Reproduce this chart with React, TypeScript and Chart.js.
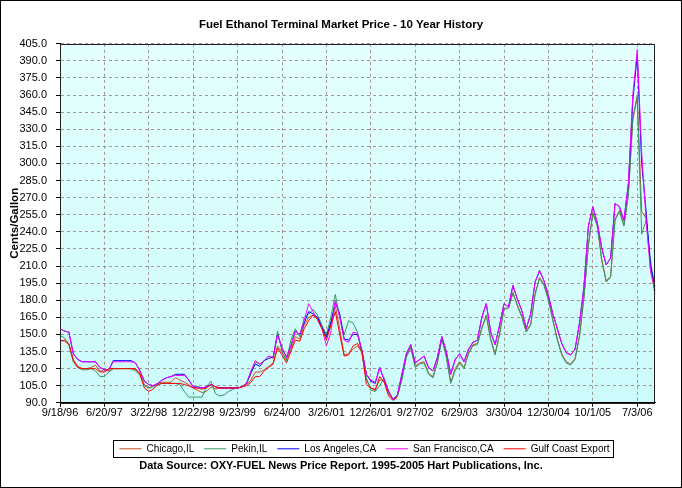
import React, { useEffect, useRef } from 'react';
import { Chart, registerables } from 'chart.js';

Chart.register(...registerables);

// x-axis tick labels (one every 10 data points)
const tickLabels = [
  '9/18/96', '6/20/97', '3/22/98', '12/22/98', '9/23/99', '6/24/00', '3/26/01',
  '12/26/01', '9/27/02', '6/29/03', '3/30/04', '12/30/04', '10/1/05', '7/3/06',
];

const seriesNames = ['Chicago,IL', 'Pekin,IL', 'Los Angeles,CA', 'San Francisco,CA', 'Gulf Coast Export'];

const chicago = [
  145, 144, 141, 128, 122, 120, 120, 121, 123, 118,
  118, 118, 120, 120, 120, 120, 120, 119, 116, 106,
  103, 105, 107, 108, 108, 108, 112, 110, 108, 106,
  103, 101, 99, 100, 104, 102, 103, 103, 103, 103,
  103, 104, 106, 110, 117, 117, 119, 122, 125, 140,
  134, 128, 137, 148, 146, 158, 165, 167, 165, 156,
  147, 160, 175, 155, 132, 133, 137, 140, 134, 110,
  103, 102, 110, 110, 98, 93, 96, 111, 131, 139,
  122, 125, 126, 116, 113, 126, 147, 131, 108, 120,
  126, 121, 134, 141, 142, 156, 167, 146, 133, 151,
  173, 173, 187, 176, 166, 153, 159, 186, 200, 194,
  181, 163, 146, 133, 126, 124, 129, 149, 183, 229,
  257, 246, 216, 197, 201, 251, 259, 246, 273, 338,
  358, 258, 252, 210, 185,
];

const pekin = [
  149, 147, 141, 126, 121, 119, 119, 120, 118, 113,
  113, 117, 120, 120, 120, 120, 120, 118, 114, 105,
  103, 104, 106, 107, 107, 107, 107, 106, 100, 95,
  95, 95, 95, 104, 109, 98, 96, 97, 100, 102,
  103, 104, 107, 115, 126, 124, 127, 131, 129, 153,
  135, 127, 145, 155, 148, 165, 168, 172, 167, 158,
  150, 165, 185, 165, 150, 162, 160, 152, 133, 112,
  101, 100, 105, 112, 100, 93, 96, 110, 130, 138,
  121, 124, 125, 115, 112, 125, 146, 130, 107, 118,
  125, 120, 133, 140, 141, 155, 166, 145, 132, 150,
  172, 173, 186, 175, 165, 152, 158, 185, 199, 193,
  180, 162, 145, 132, 125, 123, 128, 148, 182, 228,
  256, 245, 215, 196, 200, 250, 258, 245, 272, 340,
  360, 238, 250, 215, 188,
];

const losAngeles = [
  155, 153, 152, 133, 128, 126, 126, 126, 126, 121,
  119, 119, 127, 127, 127, 127, 127, 125, 118, 109,
  106, 105, 107, 110, 112, 113, 115, 115, 115, 110,
  104, 104, 103, 104, 106, 104, 103, 103, 103, 103,
  103, 104, 107, 117, 124, 122, 127, 129, 130, 150,
  138, 130, 140, 153, 150, 160, 170, 168, 165, 156,
  148, 160, 178, 168, 146, 145, 150, 150, 136, 115,
  109, 107, 121, 110, 100, 93, 97, 115, 133, 141,
  125, 128, 131, 121, 118, 130, 148, 135, 115, 128,
  133, 126, 137, 143, 145, 165, 177, 152, 141, 158,
  177, 174, 193, 181, 171, 155, 168, 196, 206, 197,
  184, 168, 155, 142, 134, 132, 137, 160, 192, 245,
  262, 248, 226, 211, 217, 265, 262, 250, 282, 355,
  395, 300, 258, 210, 192,
];

const sanFrancisco = [
  155, 153, 152, 133, 128, 126, 126, 126, 126, 121,
  119, 119, 126, 126, 126, 126, 126, 125, 118, 109,
  106, 105, 107, 110, 112, 113, 114, 114, 114, 110,
  104, 103, 103, 104, 106, 104, 103, 103, 103, 103,
  103, 104, 107, 118, 127, 124, 127, 131, 130, 150,
  138, 130, 140, 153, 150, 162, 177, 170, 163, 155,
  140, 152, 180, 165, 145, 143, 152, 151, 136, 115,
  110, 108, 121, 110, 100, 93, 97, 115, 133, 141,
  125, 128, 131, 121, 118, 130, 148, 135, 115, 128,
  133, 126, 137, 143, 145, 165, 177, 152, 141, 158,
  177, 174, 193, 181, 171, 155, 168, 196, 206, 197,
  184, 168, 155, 142, 134, 132, 137, 160, 192, 245,
  262, 248, 226, 211, 217, 265, 262, 250, 282, 360,
  400, 310, 250, 205, 188,
];

const gulfCoast = [
  144, 145, 142, 127, 121, 120, 120, 120, 120, 117,
  117, 120, 120, 120, 120, 120, 120, 120, 115, 103,
  100, 102, 106, 107, 107, 107, 107, 107, 106, 105,
  103, 103, 102, 103, 106, 104, 103, 103, 103, 103,
  103, 104, 105, 108, 113, 113, 118, 121, 124, 138,
  132, 125, 135, 145, 144, 155, 162, 167, 163, 155,
  145, 158, 170, 150, 131, 132, 140, 142, 135, 106,
  103, 101, 113, 108, 96, 92, 95, null, null, null,
  null, null, null, null, null, null, null, null, null, null,
  null, null, null, null, null, null, null, null, null, null,
  null, null, null, null, null, null, null, null, null, null,
  null, null, null, null, null, null, null, null, null, null,
  null, null, null, null, null, null, null, null, null, null,
  null, null, null, null, null,
];

const seriesColors = ['#C8501E', '#339966', '#0000FF', '#FF00FF', '#FF0000'];

const FONT = "'Liberation Sans', Arial, sans-serif";

function buildCategories(n: number): string[] {
  // one point every 27.5 days from 9/18/96
  const start = new Date(1996, 8, 18);
  const out: string[] = [];
  for (let i = 0; i < n; i++) {
    const d = new Date(start.getTime());
    d.setDate(d.getDate() + Math.round(i * 27.5));
    out.push(`${d.getMonth() + 1}/${d.getDate()}/${String(d.getFullYear()).slice(2)}`);
  }
  return out;
}

const framePlugin = {
  id: 'frame',
  afterLayout(chart: any) {
    // the legend sits slightly right of centre in the original
    const lg = chart.legend;
    if (lg) {
      lg.left += 7;
      lg.right += 7;
    }
  },
  beforeDraw(chart: any) {
    const { ctx, chartArea } = chart;
    const { left, top, right, bottom } = chartArea;
    ctx.save();
    ctx.fillStyle = '#ffffff';
    ctx.fillRect(0, 0, chart.width, chart.height);
    const g = ctx.createLinearGradient(0, top, 0, bottom);
    g.addColorStop(0, '#e4ffff');
    g.addColorStop(1, '#ccfbfb');
    ctx.fillStyle = g;
    ctx.fillRect(left, top, right - left, bottom - top);
    ctx.restore();
  },
  afterDraw(chart: any) {
    const { ctx, chartArea } = chart;
    const { left, top, right, bottom } = chartArea;
    ctx.save();
    ctx.strokeStyle = '#222';
    ctx.lineWidth = 1;
    ctx.strokeRect(Math.round(left) + 0.5, Math.round(top) + 0.5, Math.round(right - left) - 1, Math.round(bottom - top));
    // legend box
    const boxes = chart.legend?.legendHitBoxes || [];
    if (boxes.length) {
      let l = Infinity, r = -Infinity, t = Infinity, b = -Infinity;
      for (const h of boxes) {
        l = Math.min(l, h.left);
        r = Math.max(r, h.left + h.width);
        t = Math.min(t, h.top);
        b = Math.max(b, h.top + h.height);
      }
      ctx.strokeStyle = '#000';
      ctx.strokeRect(Math.round(l - 6) + 0.5, Math.round(t - 4) + 0.5, Math.round(r - l + 10), Math.round(b - t + 7));
    }
    // outer frame
    ctx.strokeStyle = '#000';
    ctx.strokeRect(0.5, 0.5, chart.width - 1, chart.height - 1);
    ctx.restore();
  },
};

export default function App() {
  const ref = useRef<HTMLCanvasElement>(null);
  useEffect(() => {
    document.body.style.margin = '0';
    const canvas = ref.current;
    if (!canvas) return;
    const categories = buildCategories(chicago.length);
    const all = [chicago, pekin, losAngeles, sanFrancisco, gulfCoast];
    const gridColor = 'rgba(150,125,115,0.8)';
    const chart = new Chart(canvas, {
      type: 'line',
      data: {
        labels: categories,
        datasets: all.map((data, i) => ({
          label: seriesNames[i],
          data,
          borderColor: seriesColors[i],
          backgroundColor: seriesColors[i],
          borderWidth: 1,
          pointRadius: 0,
          pointHoverRadius: 0,
          tension: 0,
          fill: false,
          spanGaps: false,
          order: 5 - i,
        })),
      },
      options: {
        responsive: false,
        animation: false,
        devicePixelRatio: 1,
        layout: { padding: 0 },
        plugins: {
          title: {
            display: true,
            text: 'Fuel Ethanol Terminal Market Price - 10 Year History',
            color: '#000',
            font: { family: FONT, size: 11.5, weight: 'bold' },
            padding: { top: 18, bottom: 12 },
          },
          legend: {
            display: true,
            position: 'bottom',
            fullSize: false,
            weight: 500,
            labels: {
              usePointStyle: true,
              pointStyle: 'line',
              pointStyleWidth: 22,
              color: '#000',
              font: { family: FONT, size: 10 },
              padding: 10,
              sort: (a: any, b: any) => a.datasetIndex - b.datasetIndex,
            },
          },
          subtitle: {
            display: true,
            position: 'bottom',
            weight: 1000,
            text: 'Data Source: OXY-FUEL News Price Report. 1995-2005 Hart Publications, Inc.',
            color: '#000',
            font: { family: FONT, size: 11, weight: 'bold' },
            padding: { top: -4, bottom: 15 },
          },
          tooltip: { enabled: false },
        },
        scales: {
          x: {
            type: 'category',
            offset: false,
            afterBuildTicks: (scale: any) => {
              scale.ticks = scale.ticks.filter((t: any) => t.value % 10 === 0);
            },
            afterFit: (scale: any) => {
              scale.height = 31;
            },
            ticks: {
              autoSkip: false,
              maxRotation: 0,
              minRotation: 0,
              color: '#000',
              font: { family: FONT, size: 11 },
              padding: 0,
              callback: (v: any) => tickLabels[Number(v) / 10] ?? '',
            },
            grid: {
              color: gridColor,
              lineWidth: 1,
              drawTicks: true,
              tickLength: 4,
              tickColor: '#000',
            },
            border: { display: true, color: '#000', dash: [3, 3] },
          },
          y: {
            type: 'linear',
            min: 90,
            max: 405,
            afterFit: (scale: any) => {
              scale.width = 60;
            },
            ticks: {
              stepSize: 15,
              color: '#000',
              font: { family: FONT, size: 11 },
              padding: 9,
              callback: (v: any) => Number(v).toFixed(1),
            },
            grid: {
              color: gridColor,
              lineWidth: 1,
              drawTicks: true,
              tickLength: 4,
              tickColor: '#000',
            },
            border: { display: true, color: '#000', dash: [3, 3] },
            title: {
              display: true,
              text: 'Cents/Gallon',
              color: '#000',
              font: { family: FONT, size: 11.5, weight: 'bold' },
              padding: { top: 8, bottom: 0 },
            },
          },
          yRight: {
            type: 'linear',
            position: 'right',
            display: true,
            afterFit: (scale: any) => {
              scale.width = 27;
            },
            ticks: { display: false },
            grid: { display: false, drawTicks: false },
            border: { display: false },
          },
        },
      },
      plugins: [framePlugin],
    } as any);
    return () => chart.destroy();
  }, []);
  return (
    <div style={{ width: 682, height: 488 }}>
      <canvas ref={ref} width={682} height={488} style={{ display: 'block' }} />
    </div>
  );
}
